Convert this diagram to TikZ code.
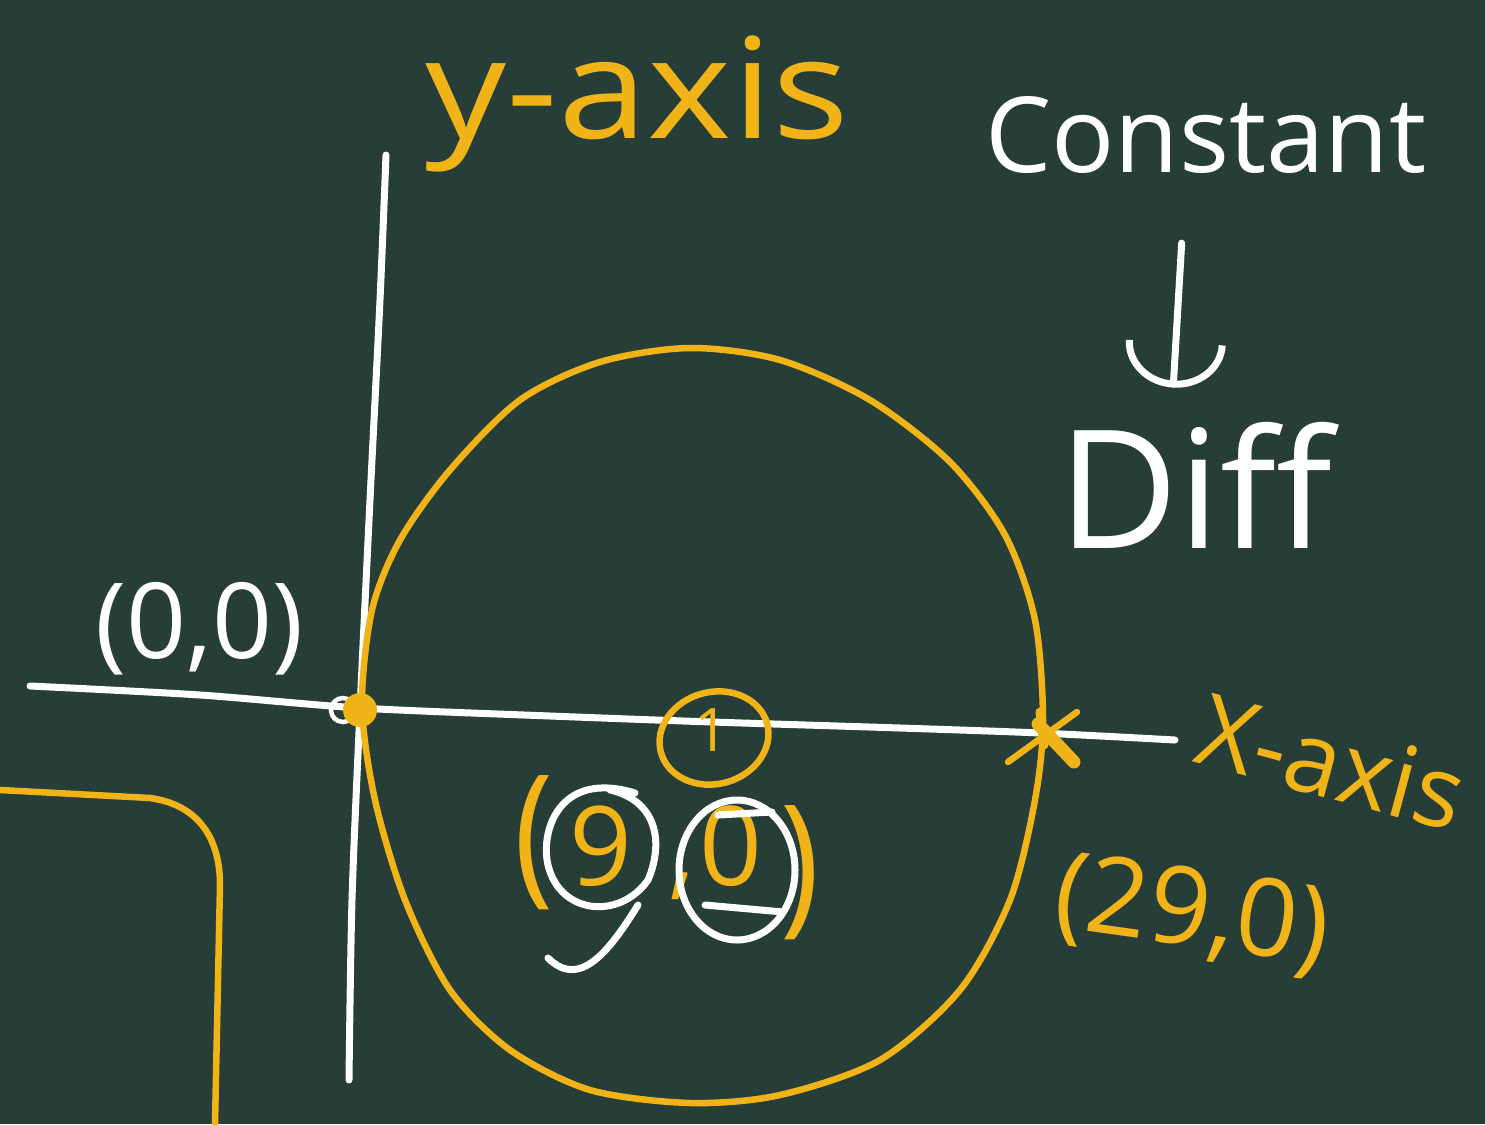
\documentclass[tikz,border=0pt]{standalone}
\usepackage{graphicx}
\usepackage{fontspec}
\setmainfont{Open Sans}
\usetikzlibrary{arrows.meta}
\definecolor{board}{HTML}{263D38}
\definecolor{chalkyel}{HTML}{F0B419}
\begin{document}
\begin{tikzpicture}[x=1pt,y=-1pt,
  wline/.style={draw=white,line width=7pt,line cap=round,line join=round},
  yline/.style={draw=chalkyel,line width=6.5pt,line cap=round,line join=round},
  ytext/.style={text=chalkyel,inner sep=0pt},
  wtext/.style={text=white,inner sep=0pt},
  arr/.style={wline,-{Arc Barb[length=45pt,width=100pt]}}]
\fill[board] (0,0) rectangle (1485,1124);
\useasboundingbox (0,0) rectangle (1485,1124);

% axes
\draw[wline] plot[smooth] coordinates {(386,155) (380,300) (370,500) (360,710) (352,900) (349,1080)};
\draw[wline] plot[smooth] coordinates {(30,686) (200,695) (360,708) (550,716) (712,722) (900,728) (1040,733) (1175,740)};

% big circle
\draw[yline] plot[smooth cycle] coordinates {(362,705) (372,610) (400,540) (450,470) (520,400) (600,362) (690,348) (780,360) (870,400) (950,462) (1005,535) (1035,620) (1043,720) (1035,800) (1010,900) (960,990) (880,1060) (780,1095) (690,1103) (590,1090) (510,1050) (450,990) (405,900) (375,800)};

% origin marks
\draw[draw=white,line width=4.5pt] (343,710) circle[radius=12];
\fill[chalkyel] (360,710) circle[radius=17];

% asterisk at (29,0)
\draw[yline] (1008,762) -- (1077,712);
\draw[yline,line width=13pt] (1038,724) -- (1074,762);
\draw[yline,line width=9pt] (1040,712) -- (1044,745);

% corner shape bottom-left
\draw[yline] (0,790) -- (150,798) .. controls (200,805) and (220,840) .. (220,885) -- (215,1124);

% centre mark
\draw[yline,rotate around={15:(714,738)}] (714,738) ellipse[x radius=55,y radius=46];
\node[ytext,font=\fontsize{60}{60}\selectfont] (one) at (712,730) {1};

% (9,0) label
\node[ytext,anchor=base west,font=\fontsize{110}{110}\selectfont] (nine) at (514,885) {\scalebox{1.2}[1.4]{(}\kern16pt9\kern36pt,\kern4pt0\kern18pt\raisebox{-30pt}{\scalebox{1.2}[1.4]{)}}};
\draw[wline] (635,793) .. controls (560,770) and (540,830) .. (548,865) .. controls (560,915) and (620,920) .. (648,880) .. controls (665,840) and (655,800) .. (610,790);
\draw[wline] (638,905) .. controls (610,950) and (580,990) .. (548,958);
\draw[wline] (737,870) ellipse[x radius=58,y radius=70];
\draw[wline] (705,905) -- (783,912);
\draw[wline] (718,815) -- (772,812);

% other labels
\node[ytext,anchor=base west,xscale=1.15,font=\fontsize{140}{140}\selectfont] (yaxis) at (425,138) {y-axis};
\node[wtext,anchor=base west,font=\fontsize{105}{105}\selectfont] (constant) at (985,172) {Constant};
\node[wtext,anchor=base west,font=\fontsize{165}{165}\selectfont] (diff) at (1058,548) {Diff};
\node[wtext,anchor=base west,font=\fontsize{105}{105}\selectfont] (origin) at (95,658) {(0,0)};
\node[ytext,rotate=-15,font=\fontsize{100}{100}\selectfont] (xaxis) at (1332,762) {X-axis};
\node[ytext,rotate=-8,font=\fontsize{108}{108}\selectfont] (pt29) at (1192,915) {(29,0)};

\draw[arr,shorten <=70pt,shorten >=34pt] ([xshift=-20pt]constant.south) -- ([xshift=-24pt]diff.north);
\end{tikzpicture}
\end{document}
